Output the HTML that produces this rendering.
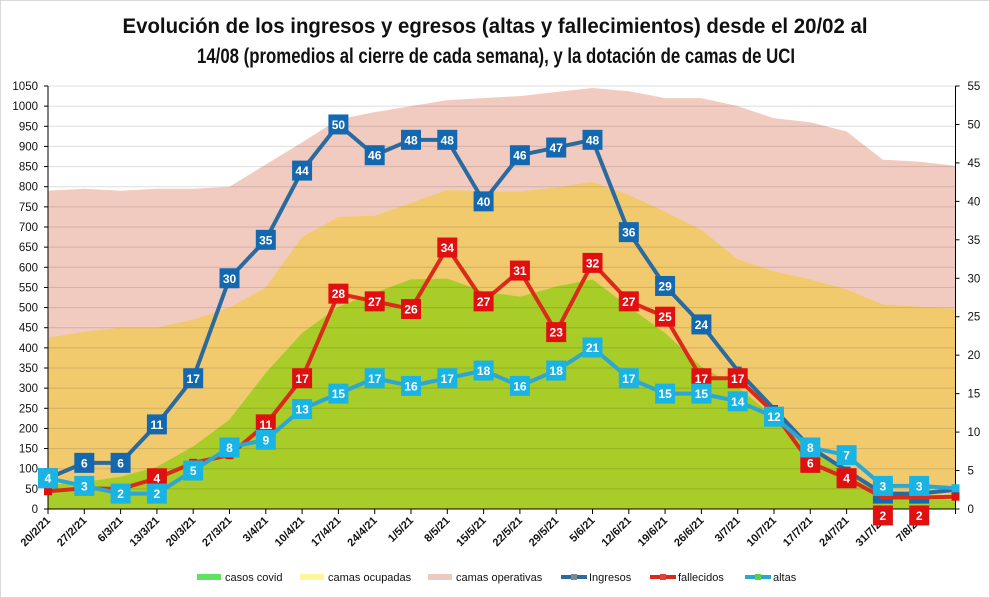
<!DOCTYPE html>
<html><head><meta charset="utf-8"><style>
html,body{margin:0;padding:0;background:#fff}
svg{display:block;font-family:"Liberation Sans",sans-serif}
</style></head><body>
<svg id="chart" width="990" height="598" viewBox="0 0 990 598" xmlns="http://www.w3.org/2000/svg">
<rect x="0.5" y="0.5" width="989" height="597" fill="#fff" stroke="#d9d9d9"/>
<text x="495" y="33" text-anchor="middle" font-weight="bold" font-size="21" textLength="745" lengthAdjust="spacingAndGlyphs" fill="#111">Evolución de los ingresos y egresos (altas y fallecimientos) desde el 20/02 al</text>
<text x="496" y="63" text-anchor="middle" font-weight="bold" font-size="21" textLength="598" lengthAdjust="spacingAndGlyphs" fill="#111">14/08 (promedios al cierre de cada semana), y la dotación de camas de UCI</text>
<g id="areas"></g>
<g id="grid"></g>
<g id="axes"></g>
<g id="lines"></g>
<g id="legend"></g>
</svg>
<script>
const categories = ["20/2/21","27/2/21","6/3/21","13/3/21","20/3/21","27/3/21","3/4/21","10/4/21","17/4/21","24/4/21","1/5/21","8/5/21","15/5/21","22/5/21","29/5/21","5/6/21","12/6/21","19/6/21","26/6/21","3/7/21","10/7/21","17/7/21","24/7/21","31/7/21","7/8/21",""];
const camasOperativas = [790,795,790,795,795,800,855,910,967,985,1000,1015,1020,1025,1035,1045,1037,1020,1020,1000,970,960,937,867,862,852];
const camasOcupadas = [425,440,450,450,470,500,550,675,725,728,760,792,788,788,798,812,780,738,693,620,590,570,545,508,502,497];
const casosCovid = [60,67,80,105,155,222,338,437,502,537,570,572,540,527,552,570,502,437,353,303,229,147,105,30,25,22];
const ingresos = [4,6,6,11,17,30,35,44,50,46,48,48,40,46,47,48,36,29,24,18,13,8,5,2,2,2.5];
const fallecidos = [2.3,2.7,2.6,4,6,7,11,17,28,27,26,34,27,31,23,32,27,25,17,17,12.5,6,4,1.5,1.5,1.6];
const altas = [4,3,2,2,5,8,9,13,15,17,16,17,18,16,18,21,17,15,15,14,12,8,7,3,3,2.7];
const leftTicks = [0,50,100,150,200,250,300,350,400,450,500,550,600,650,700,750,800,850,900,950,1000,1050];
const rightTicks = [0,5,10,15,20,25,30,35,40,45,50,55];
const labelsShown = {ing:[1,1,1,1,1,1,1,1,1,1,1,1,1,1,1,1,1,1,1,0,0,0,0,1,1,0],
 fal:[0,0,0,1,0,0,1,1,1,1,1,1,1,1,1,1,1,1,1,1,0,1,1,1,1,0],
 alt:[1,1,1,1,1,1,1,1,1,1,1,1,1,1,1,1,1,1,1,1,1,1,1,1,1,0]};

const NS="http://www.w3.org/2000/svg";
const X0=48, X1=955.5, Y0=509, Y1=86;
const step=(X1-X0)/(categories.length-1);
const x=i=>X0+i*step;
const yL=v=>Y0-(v/1050)*(Y0-Y1);
const yR=v=>Y0-(v/55)*(Y0-Y1);
function mk(tag,attrs,parent){const e=document.createElementNS(NS,tag);for(const k in attrs)e.setAttribute(k,attrs[k]);parent.appendChild(e);return e;}
const gA=document.getElementById('areas'),gG=document.getElementById('grid'),gX=document.getElementById('axes'),gL=document.getElementById('lines'),gLe=document.getElementById('legend');

function area(vals,color,name){
  let d="M"+x(0)+","+Y0;
  vals.forEach((v,i)=>{d+=" L"+x(i)+","+yL(v);});
  d+=" L"+x(vals.length-1)+","+Y0+" Z";
  const p=mk('path',{d:d,fill:color},gA);
  
  
}
area(camasOperativas,'#f2cbc0','area-camas-operativas');
area(camasOcupadas,'#f2ca6e','area-camas-ocupadas');
area(casosCovid,'#a8cc28','area-casos-covid');

leftTicks.forEach(t=>{
  if(t>0){const l=mk('line',{x1:X0,x2:X1,y1:yL(t),y2:yL(t),stroke:'#000','stroke-opacity':0.13,'stroke-width':1},gG);
  
  }
  const tx=mk('text',{x:X0-10,y:yL(t)+4,'text-anchor':'end','font-size':11.5,fill:'#111'},gX);
  tx.textContent=t;
  
  
  mk('line',{x1:X0-4,x2:X0,y1:yL(t),y2:yL(t),stroke:'#000'},gX);
});
rightTicks.forEach(t=>{
  const tx=mk('text',{x:X1+12,y:yR(t)+4,'text-anchor':'start','font-size':11.5,fill:'#111'},gX);
  tx.textContent=t;
  
  
  mk('line',{x1:X1,x2:X1+4,y1:yR(t),y2:yR(t),stroke:'#000'},gX);
});
mk('line',{x1:X0,x2:X0,y1:Y1,y2:Y0,stroke:'#000'},gX);
mk('line',{x1:X1,x2:X1,y1:Y1,y2:Y0,stroke:'#000'},gX);
mk('line',{x1:X0,x2:X1,y1:Y0,y2:Y0,stroke:'#000'},gX);
categories.forEach((c,i)=>{
  mk('line',{x1:x(i),x2:x(i),y1:Y0,y2:Y0+5,stroke:'#000'},gX);
  if(!c)return;
  const tx=mk('text',{x:0,y:0,'text-anchor':'end','font-size':11,'font-weight':'bold',fill:'#111',transform:`translate(${x(i)+3},${Y0+12}) rotate(-45)`},gX);
  tx.textContent=c;
  
  
});

function series(vals,lineColor,markColor,name,shown){
  const pts=vals.map((v,i)=>x(i)+","+yR(v)).join(" ");
  const pl=mk('polyline',{points:pts,fill:'none',stroke:lineColor,'stroke-width':4,'stroke-linejoin':'round'},gL);
  
  
  vals.forEach((v,i)=>{
    const g=mk('g',{},gL);
    
    
    if(!shown[i]){mk('rect',{x:x(i)-4,y:yR(v)-4,width:8,height:8,fill:markColor},g);return;}
    let yy=yR(v);
    if(name==='fallecidos' && v<2){yy=yR(v)+18;}
    mk('rect',{x:x(i)-10,y:yy-10,width:20,height:20,fill:markColor},g);
    const t=mk('text',{x:x(i),y:yy+4.5,'text-anchor':'middle','font-size':12,'font-weight':'bold',fill:'#fff'},g);
    t.textContent=Math.round(v);
  });
}
series(ingresos,'#2b6a9e','#1468b0','ingresos',labelsShown.ing);
series(fallecidos,'#d92b1a','#e01010','fallecidos',labelsShown.fal);
series(altas,'#2aa7d4','#1ab4e4','altas',labelsShown.alt);

const leg=[
 {t:'casos covid',x:197,c:'#5fe25f',type:'box'},
 {t:'camas ocupadas',x:300,c:'#fbf79a',type:'box'},
 {t:'camas operativas',x:428,c:'#edc9c2',type:'box'},
 {t:'Ingresos',x:561,c:'#2b6a9e',m:'#7a8a99',type:'line'},
 {t:'fallecidos',x:650,c:'#d92b1a',m:'#e04040',type:'line'},
 {t:'altas',x:745,c:'#2aa7d4',m:'#5ad04a',type:'line'}];
leg.forEach(l=>{
  const g=mk('g',{},gLe);
  
  
  if(l.type==='box')mk('rect',{x:l.x,y:574,width:24,height:6,fill:l.c},g);
  else{mk('line',{x1:l.x,x2:l.x+26,y1:577,y2:577,stroke:l.c,'stroke-width':4},g);mk('rect',{x:l.x+10,y:574,width:6,height:6,fill:l.m},g);}
  const t=mk('text',{x:l.x+28,y:581,'font-size':11,fill:'#111'},g);
  t.textContent=l.t;
});
</script>
</body></html>
